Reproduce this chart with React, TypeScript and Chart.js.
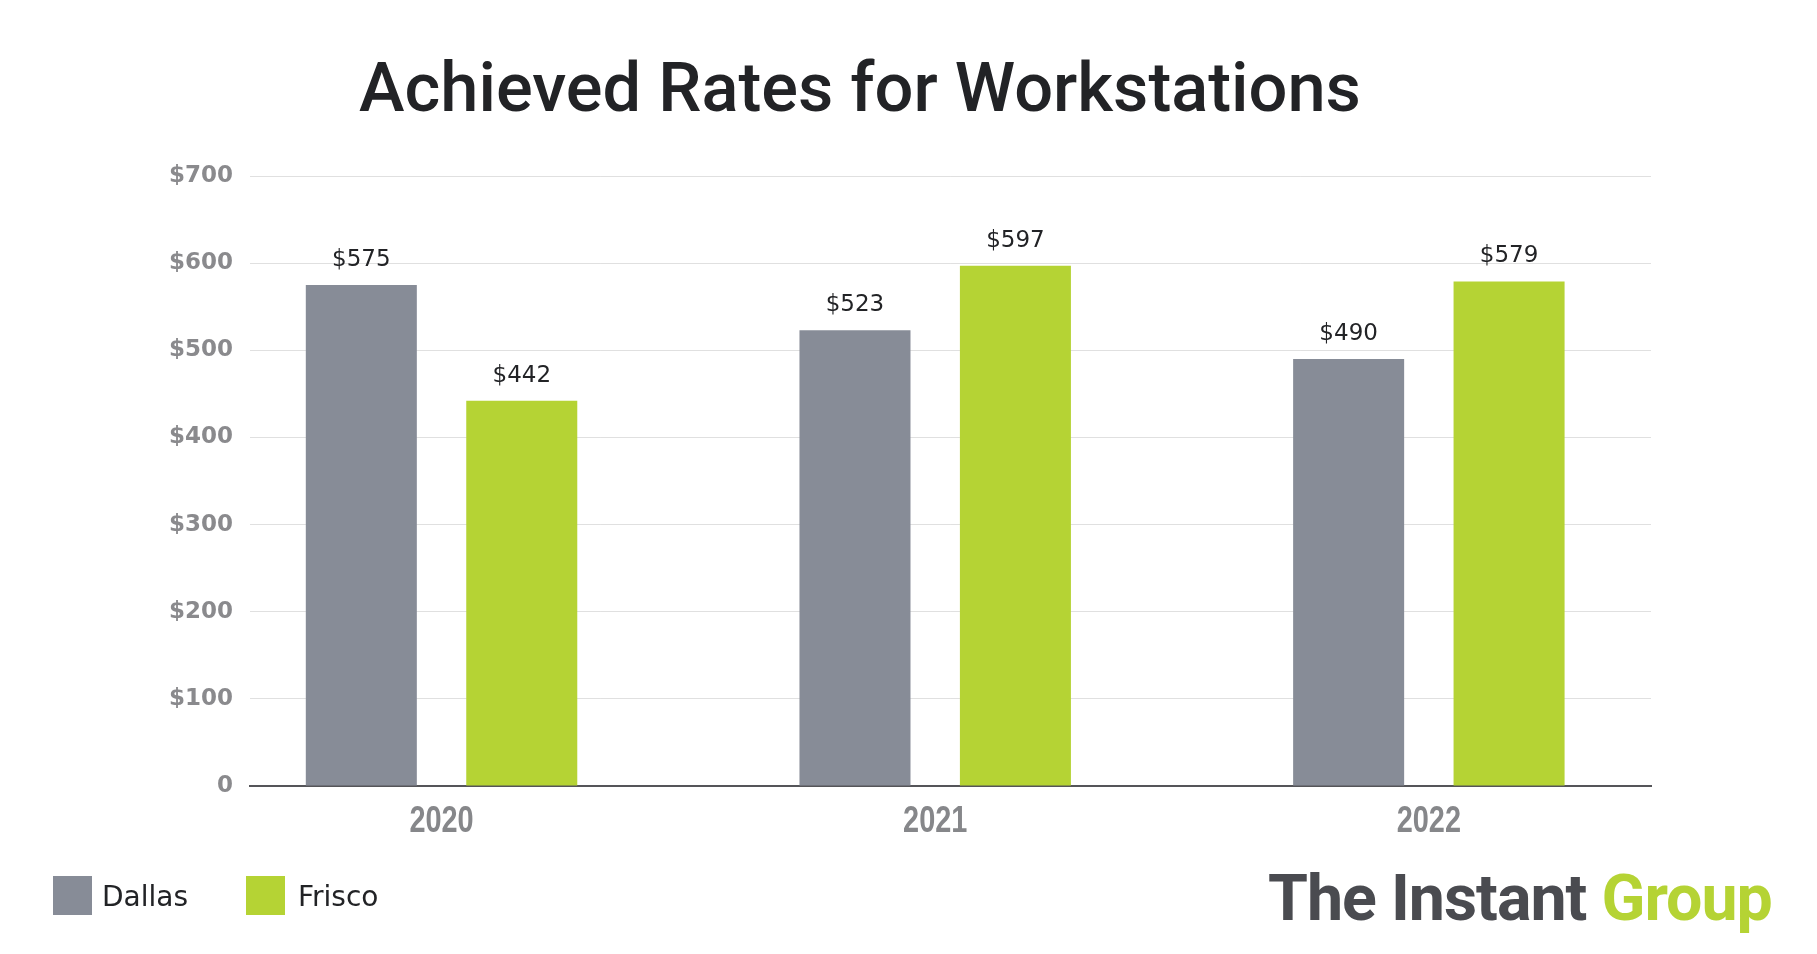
import React, { useEffect, useRef } from "react";
import { Chart, registerables } from "chart.js";

Chart.register(...registerables);

const chartTitle = "Achieved Rates for Workstations";
const categories = ["2020", "2021", "2022"];
const seriesNames = ["Dallas", "Frisco"];
const dallasValues = [575, 523, 490];
const friscoValues = [442, 597, 579];
const yMin = 0;
const yMax = 700;
const yStep = 100;

const GRAY = "#878c97";
const GREEN = "#b5d334";

const formatMoney = (v: number) => (v === 0 ? "0" : `$${v}`);

const valueLabelPlugin = {
  id: "valueLabels",
  afterDraw(chart: any) {
    const ctx = chart.ctx;
    ctx.save();
    ctx.font = '23px "DejaVu Sans"';
    ctx.fillStyle = "#222326";
    ctx.textAlign = "center";
    ctx.textBaseline = "alphabetic";
    chart.data.datasets.forEach((ds: any, di: number) => {
      const meta = chart.getDatasetMeta(di);
      meta.data.forEach((el: any, i: number) => {
        const v = ds.data[i].y;
        ctx.fillText(formatMoney(v), el.x, el.y - 19);
      });
    });
    ctx.restore();

    // condensed category labels, positioned by the x scale
    const xs = chart.scales.x;
    const base = chart.chartArea.bottom + 46;
    ctx.save();
    ctx.font = 'bold 37px "Liberation Sans"';
    ctx.fillStyle = "#86878a";
    ctx.textAlign = "center";
    ctx.textBaseline = "alphabetic";
    categories.forEach((c, i) => {
      const px = xs.getPixelForValue(i);
      ctx.save();
      ctx.translate(px, base);
      ctx.scale(0.78, 1);
      ctx.fillText(c, 0, 0);
      ctx.restore();
    });
    ctx.restore();
  },
};

function BarChart() {
  const ref = useRef<HTMLCanvasElement | null>(null);
  useEffect(() => {
    if (!ref.current) return;
    const chart = new Chart(ref.current, {
      type: "bar",
      data: {
        datasets: [
          {
            label: seriesNames[0],
            data: dallasValues.map((y, i) => ({ x: i, y })),
            backgroundColor: GRAY,
            borderWidth: 0,
          },
          {
            label: seriesNames[1],
            data: friscoValues.map((y, i) => ({ x: i, y })),
            backgroundColor: GREEN,
            borderWidth: 0,
          },
        ],
      } as any,
      options: {
        animation: false,
        responsive: true,
        maintainAspectRatio: false,
        layout: { padding: { left: 0, right: 158, top: 168, bottom: 100 } },
        datasets: { bar: { categoryPercentage: 0.65, barPercentage: 0.692 } } as any,
        plugins: {
          legend: { display: false },
          title: { display: false },
          tooltip: { enabled: false },
        },
        scales: {
          x: {
            type: "linear",
            min: -0.388,
            max: 2.45,
            offset: false,
            grid: { display: false, drawTicks: false },
            border: { display: true, color: "#555559", width: 2 },
            afterBuildTicks: (s: any) => {
              s.ticks = categories.map((_, i) => ({ value: i }));
            },
            afterFit: (s: any) => {
              s.height = 60;
            },
            ticks: { display: false },
          } as any,
          y: {
            min: yMin,
            max: yMax,
            z: 1,
            grid: { color: "rgba(0,0,0,0.12)", drawTicks: false, lineWidth: 1 },
            border: { display: false },
            afterFit: (s: any) => {
              s.width = 242;
            },
            ticks: {
              stepSize: yStep,
              padding: 17,
              color: "#8a8a8d",
              font: { family: '"DejaVu Sans"', size: 23, weight: "bold" },
              callback: (v: any) => formatMoney(Number(v)),
            },
          } as any,
        },
      },
      plugins: [valueLabelPlugin],
    });
    return () => chart.destroy();
  }, []);
  return <canvas ref={ref} />;
}

export default function App() {
  return (
    <div style={{ position: "relative", width: 1801, height: 938, background: "#fff", overflow: "hidden" }}>
      <div style={{ position: "absolute", left: 0, top: 0, width: 1801, height: 938 }}>
        <BarChart />
      </div>
      <div
        style={{
          position: "absolute",
          left: 152,
          top: 46,
          width: 1400,
          textAlign: "center",
          fontFamily: "Roboto",
          fontWeight: 500,
          fontSize: 68.6,
          lineHeight: 1,
          color: "#222326",
          whiteSpace: "nowrap",
        }}
      >
        {chartTitle}
      </div>
      <div style={{ position: "absolute", left: 45, top: 868, width: 39, height: 39, background: GRAY }} />
      <div
        style={{ position: "absolute", left: 94, top: 875, fontFamily: "DejaVu Sans", fontSize: 28, lineHeight: 1, color: "#222326" }}
      >
        {seriesNames[0]}
      </div>
      <div style={{ position: "absolute", left: 238, top: 868, width: 39, height: 39, background: GREEN }} />
      <div
        style={{ position: "absolute", left: 290, top: 875, fontFamily: "DejaVu Sans", fontSize: 28, lineHeight: 1, color: "#222326" }}
      >
        {seriesNames[1]}
      </div>
      <div
        style={{
          position: "absolute",
          left: 1260,
          top: 858,
          fontFamily: "Roboto",
          fontWeight: 700,
          fontSize: 64.5,
          lineHeight: 1,
          letterSpacing: -1,
          whiteSpace: "nowrap",
        }}
      >
        <span style={{ color: "#4a4b50" }}>The Instant </span>
        <span style={{ color: GREEN }}>Group</span>
      </div>
    </div>
  );
}
